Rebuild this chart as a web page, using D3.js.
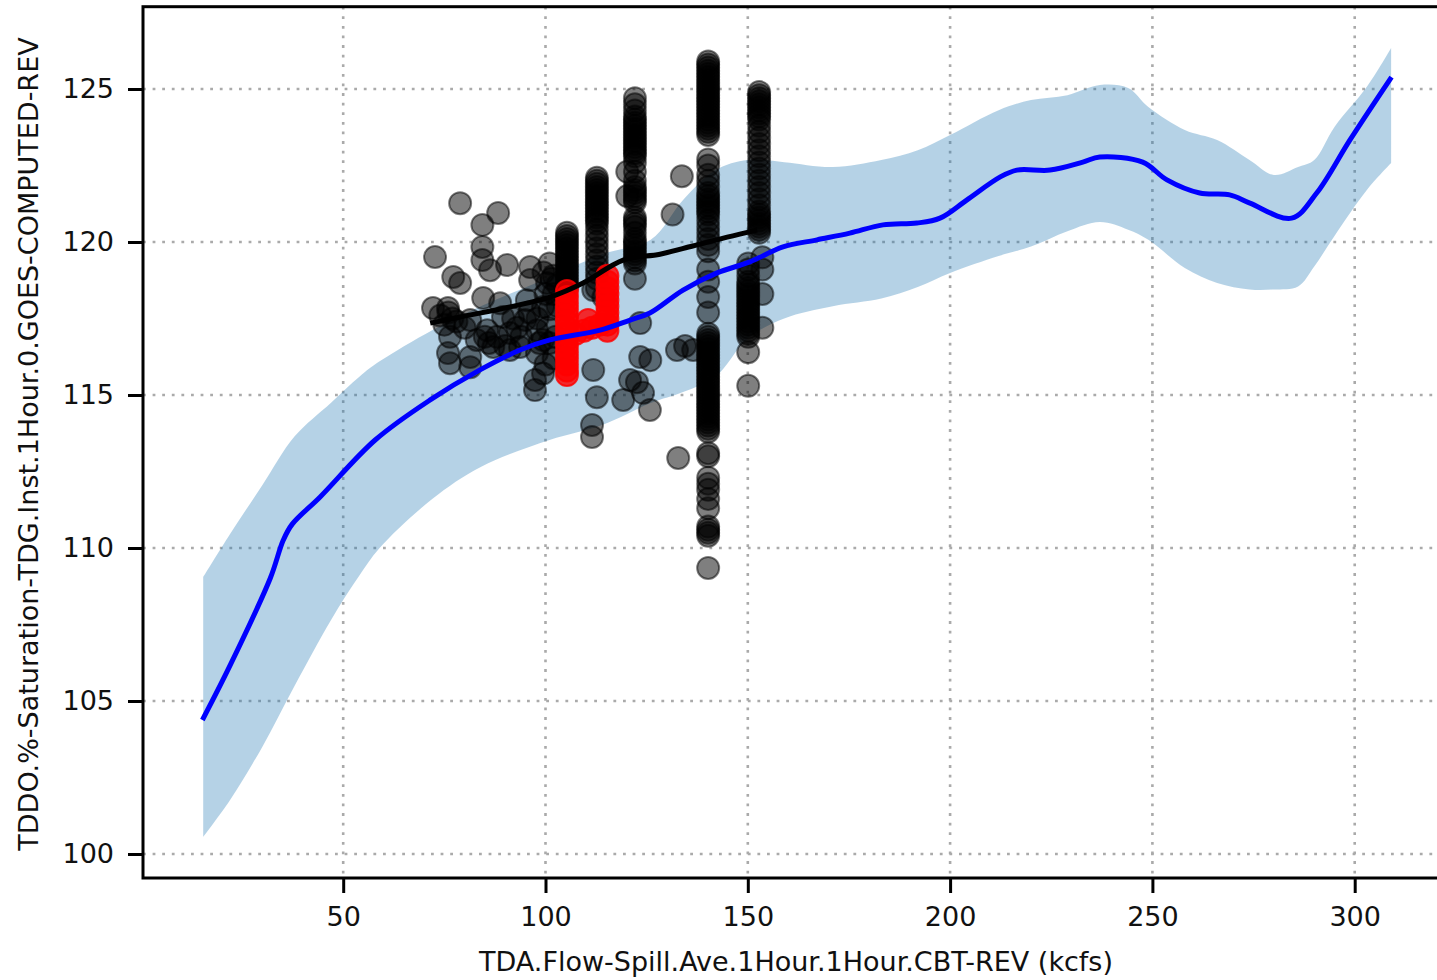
<!DOCTYPE html>
<html>
<head>
<meta charset="utf-8">
<script src="https://cdn.jsdelivr.net/npm/d3@7"></script>
<style>
  body { margin: 0; background: #fff; overflow: hidden; }
  svg { display: block; font-family: "DejaVu Sans", sans-serif; }
</style>
</head>
<body>
<div id="chart"></div>
<script>
// fitted curve (blue)
const fitX = [15.2, 22.1, 32.0, 35.2, 37.4, 44.3, 57.9, 71.5, 83.8, 93.7, 101.1, 113.5, 120.9, 125.8, 134.0, 142.4, 150.5, 158.7, 167.1, 175.2, 183.4, 191.8, 197.5, 204.1, 212.3, 216.5, 224.7, 232.8, 237.0, 247.6, 253.6, 261.7, 269.1, 274.1, 284.4, 290.6, 298.8, 309.1];
const fitY = [104.38, 106.18, 109.02, 110.26, 110.78, 111.67, 113.53, 114.84, 115.82, 116.47, 116.80, 117.12, 117.45, 117.68, 118.43, 118.99, 119.35, 119.84, 120.07, 120.29, 120.56, 120.62, 120.78, 121.37, 122.12, 122.35, 122.35, 122.61, 122.78, 122.61, 122.03, 121.60, 121.54, 121.27, 120.78, 121.60, 123.33, 125.39];

// confidence band
const bandX = [15.4, 22, 30, 38, 47, 54, 59, 72, 84, 101, 114, 126, 134, 142, 150, 159, 171, 183, 192, 200, 212, 220, 229, 237, 244, 249, 258, 266, 274, 280, 286, 290, 295, 303, 309];
const bandLow = [100.56, 101.76, 103.5, 105.5, 107.65, 109.1, 110.0, 111.6, 112.65, 113.53, 114.02, 114.74, 115.1, 115.6, 116.85, 117.5, 117.9, 118.15, 118.53, 118.99, 119.54, 119.85, 120.35, 120.65, 120.4, 120.07, 119.15, 118.66, 118.45, 118.45, 118.55, 119.2, 120.2, 121.7, 122.58];
const bandHigh = [109.05, 110.45, 112.05, 113.65, 114.75, 115.6, 116.1, 117.12, 117.9, 118.85, 119.6, 120.07, 121.37, 122.35, 122.68, 122.61, 122.45, 122.68, 123.0, 123.5, 124.31, 124.64, 124.8, 125.13, 125.03, 124.41, 123.66, 123.33, 122.68, 122.19, 122.45, 122.68, 123.76, 125.07, 126.34];

// observed mean line (black)
const meanX = [71.5, 78.9, 91.2, 101.1, 109.3, 119.2, 128.3, 136.4, 144.9, 152.3];
const meanY = [117.35, 117.55, 117.88, 118.2, 118.66, 119.41, 119.6, 119.87, 120.16, 120.39];

// observations stacked at a few flows
const colX = [105.3, 112.7, 122.1, 140.2, 152.8, 150.1, 153.6];
const colY = [
  [120.3, 120.2, 120.1, 120.0, 119.9, 119.8, 119.7, 119.6, 119.5, 119.4, 119.3, 119.2, 119.1, 119.0, 118.9, 118.8, 118.7, 118.6, 118.5],
  [122.1, 122.0, 121.9, 121.8, 121.7, 121.6, 121.5, 121.4, 121.3, 121.2, 121.1, 121.0, 120.9, 120.8, 120.7, 120.6, 120.4, 120.2, 120.0, 119.8, 119.6, 119.4, 119.2, 119.0, 118.8, 118.5],
  [124.7, 124.5, 124.3, 124.1, 124.0, 123.9, 123.8, 123.7, 123.6, 123.5, 123.4, 123.3, 123.2, 123.1, 123.0, 122.9, 122.8, 122.6, 122.3, 122.0, 121.8, 121.7, 121.6, 121.5, 121.4, 121.3, 120.8, 120.7, 120.6, 120.5, 120.3, 120.1, 120.0, 119.9, 119.8, 119.7, 119.6, 119.5, 119.4, 119.3, 118.8],
  [125.9, 125.8, 125.7, 125.6, 125.5, 125.4, 125.3, 125.2, 125.1, 125.0, 124.9, 124.8, 124.7, 124.6, 124.5, 124.4, 124.3, 124.2, 124.1, 124.0, 123.9, 123.8, 123.7, 123.6, 123.5,
   122.7, 122.5, 122.2, 122.0, 121.8, 121.6, 121.5, 121.4, 121.3, 121.2, 121.1, 121.0, 120.9, 120.7, 120.5, 120.3, 120.1, 119.9, 119.7,
   119.1, 118.7, 118.2, 117.7,
   117.0, 116.9, 116.8, 116.7, 116.6, 116.5, 116.4, 116.3, 116.2, 116.1, 116.0, 115.9, 115.8, 115.7, 115.6, 115.5, 115.4, 115.3, 115.2, 115.1, 115.0, 114.9, 114.8, 114.7, 114.6, 114.5, 114.4, 114.3, 114.2, 114.1, 114.0, 113.9, 113.8,
   113.1, 113.0, 112.3, 112.1, 111.9, 111.6, 111.3, 110.7, 110.6, 110.5, 110.4, 109.35],
  [124.9, 124.8, 124.7, 124.6, 124.5, 124.4, 124.3, 124.2, 124.1, 124.0, 123.8, 123.6, 123.4, 123.2, 123.0, 122.8, 122.6, 122.4, 122.2, 122.0, 121.8, 121.6, 121.4, 121.2, 121.0, 120.9, 120.8, 120.7, 120.6, 120.5, 120.4, 120.3],
  [119.3, 119.1, 118.9, 118.7, 118.6, 118.5, 118.4, 118.3, 118.2, 118.1, 118.0, 117.9, 117.8, 117.7, 117.6, 117.5, 117.4, 117.3, 117.2, 117.1, 117.0, 116.9, 116.4, 115.3],
  [119.5, 119.1, 118.3, 117.2]
];

// other observations
const looseX = [78.9, 88.3, 84.4, 84.4, 72.7, 84.4, 90.5, 96.2, 86.3, 77.2, 78.9, 100.4, 96.2, 72.2, 75.9, 84.6, 88.8, 95.4, 99.4, 81.4, 89.5, 95.0, 76.4, 85.6, 91.2, 97.9, 75.9, 81.4, 87.1, 93.7, 76.4, 81.4, 97.9, 97.4, 97.4, 91.2, 76, 77, 85, 86, 93, 94, 101.5, 102, 101, 100.5, 101, 102, 99.4, 99.4, 111.8, 112.7, 111.5, 111.5, 123.4, 120.9, 124.1, 125.8, 119.2, 123.4, 114.3, 111.8, 120.2, 120.2, 133.7, 131.4, 132.5, 136.5, 134.5, 125.9, 122.6, 132.8,
  74, 75, 78, 80, 83, 88, 90, 92, 96, 98, 100, 103, 103, 102.5, 100, 98.5, 99.5, 101, 102];
const looseY = [121.27, 120.95, 120.56, 119.84, 119.51, 119.41, 119.25, 119.18, 119.08, 118.86, 118.66, 118.66, 118.76, 117.84, 117.84, 118.17, 118.0, 118.1, 117.88, 117.45, 117.55, 117.45, 116.9, 117.12, 117.03, 117.12, 116.37, 116.24, 116.57, 116.57, 116.04, 115.91, 116.37, 115.49, 115.16, 116.47, 117.7, 117.5, 116.9, 116.7, 117.2, 116.9, 118.8, 118.3, 117.8, 117.2, 116.7, 116.2, 115.7, 116.8, 115.82, 114.93, 114.02, 113.63, 116.24, 115.49, 115.07, 114.51, 114.84, 117.35, 118.2, 118.43, 122.3, 121.5, 122.15, 120.9, 116.47, 116.47, 116.6, 116.14, 115.42, 112.94,
  117.6, 117.3, 117.4, 117.2, 116.8, 116.9, 116.6, 117.5, 117.7, 117.5, 118.3, 118.6, 117.9, 116.9, 116.0, 116.7, 119.0, 119.3, 118.9];

// recent observations (red)
const redX = [105.3, 105.3, 105.3, 105.3, 105.3, 105.3, 105.3, 105.3, 105.3, 105.3, 105.3, 105.3, 105.3, 105.3, 105.3, 107.5, 109.5, 111.5, 113.5, 110.5, 115.3, 115.3, 115.3, 115.3, 115.3, 115.3, 115.3, 115.3, 115.3, 115.3];
const redY = [118.4, 118.2, 118.0, 117.8, 117.6, 117.4, 117.2, 117.0, 116.8, 116.6, 116.4, 116.2, 116.0, 115.8, 115.65, 117.0, 117.1, 117.2, 117.3, 117.45, 118.9, 118.7, 118.5, 118.3, 118.1, 117.9, 117.7, 117.5, 117.3, 117.1];

const xTicks = [50, 100, 150, 200, 250, 300];
const yTicks = [100, 105, 110, 115, 120, 125];

const W = 1437, H = 980;
const plot = { left: 143, right: 1451, top: 6.7, bottom: 878 };

const svg = d3.select("#chart").append("svg")
  .attr("width", W)
  .attr("height", H);

const x = d3.scaleLinear().domain([0.52, 323.8]).range([plot.left, plot.right]);
const y = d3.scaleLinear().domain([99.216, 127.69]).range([plot.bottom, plot.top]);

// grid
const grid = svg.append("g")
  .attr("stroke", "#aaaaaa")
  .attr("stroke-width", 2.6)
  .attr("stroke-dasharray", "2.8,6.8");
grid.selectAll(".gx").data(xTicks).enter().append("line")
  .attr("x1", d => x(d)).attr("x2", d => x(d))
  .attr("y1", plot.top).attr("y2", plot.bottom);
grid.selectAll(".gy").data(yTicks).enter().append("line")
  .attr("x1", plot.left).attr("x2", plot.right)
  .attr("y1", d => y(d)).attr("y2", d => y(d));

// band
const bandData = bandX.map((v, i) => ({ x: v, lo: bandLow[i], hi: bandHigh[i] }));
svg.append("path")
  .datum(bandData)
  .attr("d", d3.area()
    .x(d => x(d.x)).y0(d => y(d.lo)).y1(d => y(d.hi))
    .curve(d3.curveCatmullRom.alpha(0.5)))
  .attr("fill", "#1f77b4")
  .attr("fill-opacity", 0.33);

// black observations
const obs = [];
colX.forEach((cx, i) => colY[i].forEach(v => obs.push([cx, v])));
looseX.forEach((v, i) => obs.push([v, looseY[i]]));

svg.append("g").selectAll("circle")
  .data(obs)
  .enter()
  .append("circle")
  .attr("cx", d => x(d[0]))
  .attr("cy", d => y(d[1]))
  .attr("r", 11)
  .attr("fill", "#000")
  .attr("fill-opacity", 0.5)
  .attr("stroke", "#000")
  .attr("stroke-opacity", 0.5)
  .attr("stroke-width", 2);

// red observations
svg.append("g").selectAll("circle")
  .data(redX.map((v, i) => [v, redY[i]]))
  .enter()
  .append("circle")
  .attr("cx", d => x(d[0]))
  .attr("cy", d => y(d[1]))
  .attr("r", 11)
  .attr("fill", "#ff0000")
  .attr("fill-opacity", 0.8)
  .attr("stroke", "#ff0000")
  .attr("stroke-opacity", 0.8)
  .attr("stroke-width", 2);

// fitted line
svg.append("path")
  .datum(fitX.map((v, i) => [v, fitY[i]]))
  .attr("d", d3.line().x(d => x(d[0])).y(d => y(d[1])).curve(d3.curveCatmullRom.alpha(0.5)))
  .attr("fill", "none")
  .attr("stroke", "#0000ff")
  .attr("stroke-width", 5);

// mean line
svg.append("path")
  .datum(meanX.map((v, i) => [v, meanY[i]]))
  .attr("d", d3.line().x(d => x(d[0])).y(d => y(d[1])).curve(d3.curveCatmullRom.alpha(0.5)))
  .attr("fill", "none")
  .attr("stroke", "#000")
  .attr("stroke-width", 5);

// axes
const xAxis = svg.append("g")
  .attr("transform", `translate(0,${plot.bottom})`)
  .call(d3.axisBottom(x).tickValues(xTicks).tickSize(15).tickPadding(14).tickFormat(d3.format("d")));
const yAxis = svg.append("g")
  .attr("transform", `translate(${plot.left},0)`)
  .call(d3.axisLeft(y).tickValues(yTicks).tickSize(15).tickPadding(14).tickFormat(d3.format("d")));

[xAxis, yAxis].forEach(a => {
  a.select(".domain").remove();
  a.selectAll(".tick line").attr("stroke", "#000").attr("stroke-width", 3);
  a.selectAll(".tick text")
    .attr("fill", "#111")
    .style("font-family", "DejaVu Sans")
    .style("font-size", "27px");
});

// spines
svg.append("rect")
  .attr("x", plot.left).attr("y", plot.top)
  .attr("width", plot.right - plot.left).attr("height", plot.bottom - plot.top)
  .attr("fill", "none")
  .attr("stroke", "#000")
  .attr("stroke-width", 3);

// labels
svg.append("text")
  .attr("x", 796)
  .attr("y", 971)
  .attr("text-anchor", "middle")
  .style("font-size", "27px")
  .attr("fill", "#111")
  .text("TDA.Flow-Spill.Ave.1Hour.1Hour.CBT-REV (kcfs)");

svg.append("text")
  .attr("transform", `translate(38,444) rotate(-90)`)
  .attr("text-anchor", "middle")
  .style("font-size", "27px")
  .attr("fill", "#111")
  .text("TDDO.%-Saturation-TDG.Inst.1Hour.0.GOES-COMPUTED-REV");
</script>
</body>
</html>
